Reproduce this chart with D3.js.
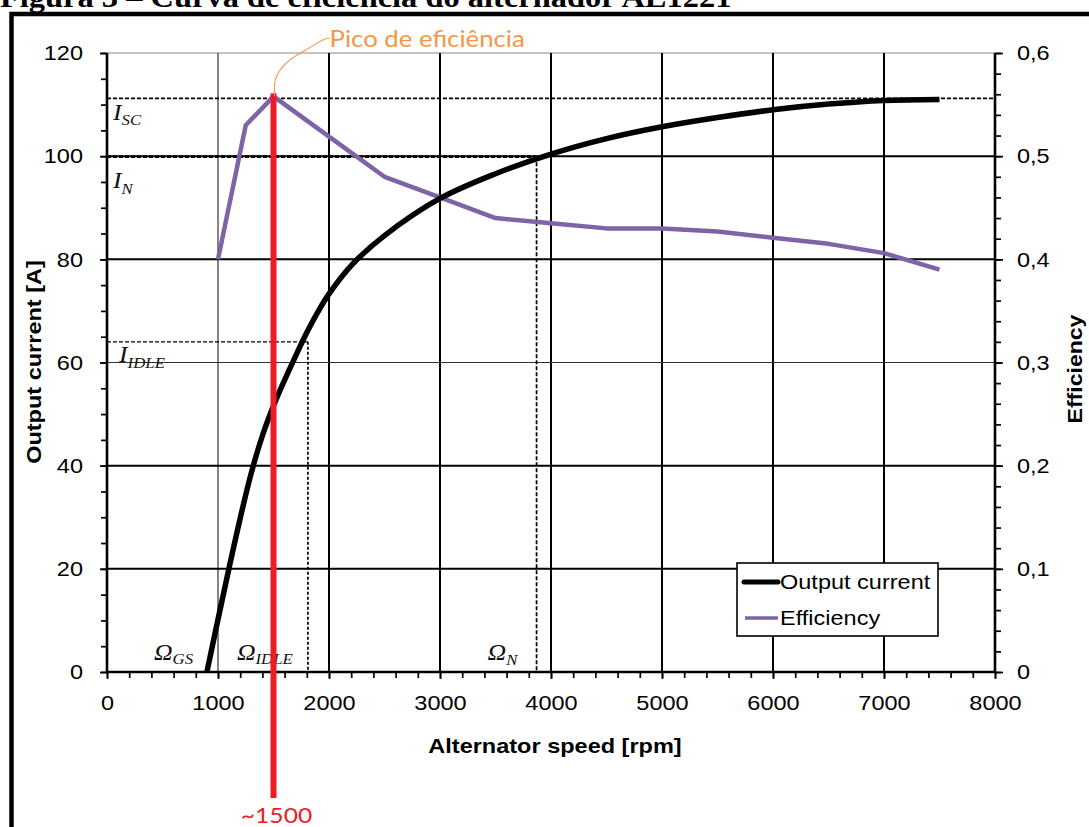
<!DOCTYPE html>
<html><head><meta charset="utf-8">
<script src="https://cdn.jsdelivr.net/npm/d3@7"></script>
<style>html,body{margin:0;padding:0;background:#fff;} svg{display:block;}</style>
</head><body>
<svg id="chart" width="1089" height="827"></svg>
<script>
// ---------- data ----------
const speedCurrent = [900, 1000, 1100, 1200, 1300, 1400, 1500, 1600, 1700, 1800, 1900, 2000, 2200, 2500, 3000, 3500, 4000, 4500, 5000, 5500, 6000, 6500, 7000, 7500];
const outputCurrent = [0, 10.2, 20.2, 29.8, 38.6, 45.8, 51.6, 56.6, 61.3, 65.8, 69.8, 73.3, 78.8, 84.6, 91.8, 96.6, 100.4, 103.4, 105.7, 107.5, 109, 110.1, 110.8, 111];
const speedEff = [1000, 1250, 1500, 2000, 2500, 3000, 3500, 4000, 4500, 5000, 5500, 6000, 6500, 7000, 7500];
const efficiency = [0.40, 0.53, 0.558, 0.519, 0.48, 0.46, 0.44, 0.435, 0.43, 0.43, 0.427, 0.421, 0.415, 0.406, 0.39];
const xTicks = [0, 1000, 2000, 3000, 4000, 5000, 6000, 7000, 8000];
const leftTicks = [0, 20, 40, 60, 80, 100, 120];
const rightTicks = [0, 0.1, 0.2, 0.3, 0.4, 0.5, 0.6];
const rightTickLabels = ["0", "0,1", "0,2", "0,3", "0,4", "0,5", "0,6"];
const seriesNames = ["Output current", "Efficiency"];
const levelISC = 111.2, levelIN = 100, levelIIDLE = 64;
const speedGS = 900, speedIDLE = 1810, speedN = 3870;
const peakSpeed = 1500, peakEff = 0.558;
const titleText = "Figura 3 – Curva de eficiência do alternador AL1221";
const peakLabel = "Pico de eficiência";
const peakSpeedLabel = "~1500";

// ---------- layout ----------
const svg = d3.select("#chart");
const L = 107, R = 995, T = 53, B = 672;
const SX = 1.12; // horizontal glyph stretch of the source picture
const sans = "'Liberation Sans', Arial, sans-serif";
const serif = "'Liberation Serif', 'Times New Roman', serif";
const calib = "Lato, 'Open Sans', sans-serif";
const purple = "#7e63a6", red = "#ec1c24", orange = "#f79646";

const x = d3.scaleLinear([0, 8000], [L, R]);
const yL = d3.scaleLinear([0, 120], [B, T]);
const yR = d3.scaleLinear([0, 0.6], [B, T]);

// frame + title
svg.append("path").attr("d", `M11.5,827 L11.5,14 L1089,14`).attr("fill", "none")
  .attr("stroke", "#000").attr("stroke-width", 4.5);
svg.append("text").attr("transform", `translate(0,7) scale(${SX},1)`)
  .attr("font-family", serif).attr("font-weight", "bold").attr("font-size", 29)
  .text(titleText);

// top border
svg.append("line").attr("x1", L).attr("x2", R).attr("y1", T).attr("y2", T)
  .attr("stroke", "#8a8a8a").attr("stroke-width", 1.2);

// gridlines
const grid = svg.append("g");
xTicks.filter(v => v > 0 && v < 8000).forEach(v => {
  grid.append("line").attr("x1", x(v)).attr("x2", x(v)).attr("y1", T).attr("y2", B)
    .attr("stroke", v === 1000 ? "#333" : "#000").attr("stroke-width", v === 1000 ? 1.2 : 2);
});
leftTicks.filter(v => v > 0 && v < 120).forEach(v => {
  grid.append("line").attr("x1", L).attr("x2", R).attr("y1", yL(v)).attr("y2", yL(v))
    .attr("stroke", v === 60 ? "#333" : "#000").attr("stroke-width", v === 60 ? 1.2 : 2);
});

// reference lines
const refs = svg.append("g").attr("fill", "none").attr("stroke", "#000");
refs.append("line").attr("x1", L).attr("x2", R).attr("y1", yL(levelISC)).attr("y2", yL(levelISC))
  .attr("stroke-width", 1.7).attr("stroke-dasharray", "4,2");
refs.append("line").attr("x1", L).attr("x2", x(speedN)).attr("y1", yL(levelIN) + 0.5).attr("y2", yL(levelIN) + 0.5)
  .attr("stroke-width", 2.8).attr("stroke-dasharray", "4,2");
refs.append("line").attr("x1", x(speedN)).attr("x2", x(speedN)).attr("y1", yL(levelIN)).attr("y2", B)
  .attr("stroke-width", 1.7).attr("stroke-dasharray", "4,2");
refs.append("line").attr("x1", L).attr("x2", x(speedIDLE)).attr("y1", yL(levelIIDLE)).attr("y2", yL(levelIIDLE))
  .attr("stroke-width", 1.1).attr("stroke-dasharray", "4,2");
refs.append("line").attr("x1", x(speedIDLE)).attr("x2", x(speedIDLE)).attr("y1", yL(levelIIDLE)).attr("y2", B)
  .attr("stroke-width", 1.7).attr("stroke-dasharray", "3,2");

// series
const curData = speedCurrent.map((s, i) => [s, outputCurrent[i]]);
const effData = speedEff.map((s, i) => [s, efficiency[i]]);
svg.append("path").datum(effData).attr("fill", "none").attr("stroke", purple).attr("stroke-width", 4.5)
  .attr("stroke-linejoin", "round")
  .attr("d", d3.line().x(d => x(d[0])).y(d => yR(d[1])));
svg.append("path").datum(curData).attr("fill", "none").attr("stroke", "#000").attr("stroke-width", 5.5)
  .attr("d", d3.line().x(d => x(d[0])).y(d => yL(d[1])).curve(d3.curveCatmullRom.alpha(0.5)));

// axes
function styleAxis(g) {
  g.select(".domain").remove();
  g.selectAll(".tick line").attr("stroke", "#000").attr("stroke-width", 1.7);
  g.selectAll("text").attr("font-family", sans).attr("font-size", 21).attr("fill", "#000");
}
const minorX = d3.range(0, 8001, 200);
const minorL = d3.range(0, 121, 5);
const minorR = d3.range(0, 30.5, 1).map(v => v / 50);

svg.append("g").attr("transform", `translate(0,${B})`)
  .call(d3.axisBottom(x).tickValues(minorX).tickSize(6).tickFormat("")).call(styleAxis);
const gx = svg.append("g").attr("transform", `translate(0,${B})`)
  .call(d3.axisBottom(x).tickValues(xTicks).tickSize(7).tickFormat(d3.format("d"))).call(styleAxis);
gx.selectAll("text").attr("y", 23).attr("transform", `scale(${SX},1)`);

svg.append("g").attr("transform", `translate(${L},0)`)
  .call(d3.axisLeft(yL).tickValues(minorL).tickSize(6).tickFormat("")).call(styleAxis);
const gl = svg.append("g").attr("transform", `translate(${L},0)`)
  .call(d3.axisLeft(yL).tickValues(leftTicks).tickSize(7).tickFormat(d3.format("d"))).call(styleAxis);
gl.selectAll("text").attr("x", -24 / SX).attr("transform", `scale(${SX},1)`);

svg.append("g").attr("transform", `translate(${R},0)`)
  .call(d3.axisRight(yR).tickValues(minorR).tickSize(6).tickFormat("")).call(styleAxis);
const gr = svg.append("g").attr("transform", `translate(${R},0)`)
  .call(d3.axisRight(yR).tickValues(rightTicks).tickSize(8).tickFormat((d, i) => rightTickLabels[i])).call(styleAxis);
gr.selectAll("text").attr("x", 22 / SX).attr("transform", `scale(${SX},1)`);

// axis lines
const ax = svg.append("g").attr("stroke", "#000").attr("stroke-width", 2.6);
ax.append("line").attr("x1", L).attr("x2", L).attr("y1", T).attr("y2", B + 1);
ax.append("line").attr("x1", R).attr("x2", R).attr("y1", T).attr("y2", B + 1);
ax.append("line").attr("x1", L - 1).attr("x2", R + 1).attr("y1", B).attr("y2", B);

// axis titles
svg.append("text").attr("transform", `translate(${(L + R) / 2 + 4},753) scale(${SX},1)`)
  .attr("text-anchor", "middle").attr("font-family", sans).attr("font-weight", "bold").attr("font-size", 21)
  .text("Alternator speed [rpm]");
svg.append("text").attr("transform", `translate(41,362) rotate(-90) scale(${SX},1)`)
  .attr("text-anchor", "middle").attr("font-family", sans).attr("font-weight", "bold").attr("font-size", 21)
  .text("Output current [A]");
svg.append("text").attr("transform", `translate(1082,369) rotate(-90) scale(${SX * 0.98},1)`)
  .attr("text-anchor", "middle").attr("font-family", sans).attr("font-weight", "bold").attr("font-size", 21)
  .text("Efficiency");

// italic symbol labels
function symLabel(px, py, main, sub, subDy) {
  const t = svg.append("text").attr("transform", `translate(${px},${py}) scale(${SX},1)`)
    .attr("font-family", serif).attr("font-style", "italic").attr("font-size", 23).attr("fill", "#111");
  t.append("tspan").text(main);
  t.append("tspan").attr("font-size", 15).attr("dy", subDy).text(sub);
}
symLabel(x(0) + 6, yL(levelISC) + 22, "I", "SC", 5);
symLabel(x(0) + 6, yL(levelIN) + 32, "I", "N", 6);
symLabel(x(0) + 12, yL(levelIIDLE) + 20, "I", "IDLE", 6);
symLabel(x(speedGS) - 53, B - 12, "Ω", "GS", 4);
symLabel(x(speedIDLE) - 71, B - 12, "Ω", "IDLE", 4);
symLabel(x(speedN) - 49, B - 12, "Ω", "N", 5);

// legend
const lg = svg.append("g").attr("transform", "translate(737,563)");
lg.append("rect").attr("width", 201).attr("height", 73).attr("fill", "#fff")
  .attr("stroke", "#000").attr("stroke-width", 1.6);
lg.append("line").attr("x1", 7).attr("x2", 41).attr("y1", 19).attr("y2", 19)
  .attr("stroke", "#000").attr("stroke-width", 5).attr("stroke-linecap", "round");
lg.append("line").attr("x1", 8).attr("x2", 41).attr("y1", 55).attr("y2", 55)
  .attr("stroke", purple).attr("stroke-width", 3.5);
seriesNames.forEach((n, i) => {
  lg.append("text").attr("transform", `translate(43,${19 + 36 * i}) scale(${SX},1)`).attr("dy", "0.35em")
    .attr("font-family", sans).attr("font-size", 21).attr("fill", "#000").text(n);
});

// peak annotation
const px0 = x(peakSpeed), py0 = yR(peakEff);
svg.append("line").attr("x1", px0).attr("x2", px0).attr("y1", py0 - 3).attr("y2", 798)
  .attr("stroke", red).attr("stroke-width", 6);
svg.append("text").attr("transform", `translate(${px0 + 3},823) scale(${SX},1)`).attr("text-anchor", "middle")
  .attr("font-family", calib).attr("font-size", 22).attr("fill", red)
  .text(peakSpeedLabel);
const tx = px0 + 56, ty = 38;
svg.append("path").attr("fill", "none").attr("stroke", orange).attr("stroke-width", 1.1)
  .attr("d", `M${px0 + 1},${py0} L${px0 + 1},${py0 - 12} C${px0 + 3},${py0 - 30} ${px0 + 20},${py0 - 40} ${px0 + 32},${py0 - 46} C${tx - 14},${ty + 6} ${tx - 6},${ty} ${tx},${ty}`);
svg.append("text").attr("transform", `translate(${tx},47) scale(${SX},1)`)
  .attr("font-family", calib).attr("font-size", 23).attr("fill", orange)
  .text(peakLabel);
</script>
</body></html>
